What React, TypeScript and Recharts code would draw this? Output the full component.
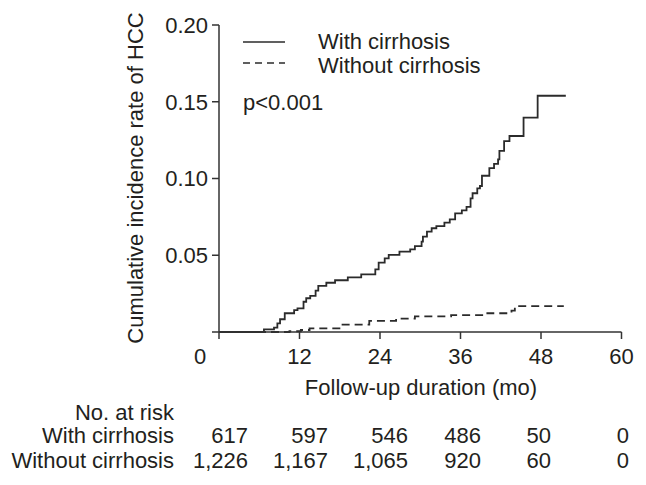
import { LineChart, Line, XAxis, YAxis } from 'recharts'

// follow-up months on the x axis, cumulative incidence on the y axis
const monthTicks = [0, 12, 24, 36, 48, 60]
const rateTicks = [0, 0.05, 0.1, 0.15, 0.2]

// step curve: with cirrhosis
const withTime = [0, 6.7, 8.2, 8.7, 9.1, 9.8, 11.2, 11.7, 12.6, 13.0, 13.6, 14.4, 14.8, 16.0, 17.3, 19.2, 21.2, 23.3, 23.8, 24.7, 25.3, 26.9, 28.5, 29.2, 30.2, 30.4, 31.0, 31.7, 32.4, 33.6, 34.4, 35.2, 36.2, 36.9, 37.5, 37.8, 38.5, 38.9, 39.2, 40.3, 41.0, 41.6, 41.8, 42.5, 43.3, 45.4, 47.5, 51.7]
const withRate = [0, 0.0017, 0.0028, 0.0056, 0.0083, 0.0122, 0.0143, 0.0154, 0.0197, 0.022, 0.0235, 0.0269, 0.03, 0.0321, 0.0337, 0.0356, 0.0376, 0.0408, 0.0452, 0.048, 0.0502, 0.0523, 0.0538, 0.056, 0.0589, 0.0621, 0.0654, 0.0676, 0.069, 0.0712, 0.0734, 0.0773, 0.0793, 0.0815, 0.0871, 0.0904, 0.0936, 0.0951, 0.1018, 0.1067, 0.1095, 0.1125, 0.118, 0.1244, 0.1277, 0.1396, 0.1539, 0.1539]

// step curve: without cirrhosis
const withoutTime = [0, 10.5, 12.2, 13.5, 18.2, 22.4, 26.4, 29.2, 34.6, 40.0, 43.6, 44.1, 51.4]
const withoutRate = [0, 0.0005, 0.0013, 0.0024, 0.0048, 0.0072, 0.0087, 0.0102, 0.011, 0.0122, 0.0139, 0.0168, 0.0168]

const groups = ['With cirrhosis', 'Without cirrhosis']
const atRiskWith = ['617', '597', '546', '486', '50', '0']
const atRiskWithout = ['1,226', '1,167', '1,065', '920', '60', '0']

const withData = withTime.map((t, i) => ({ t, rate: withRate[i] }))
const withoutData = withoutTime.map((t, i) => ({ t, rate: withoutRate[i] }))

const FONT = '"Liberation Sans", Arial, sans-serif'
const INK = '#231f20'
const FS = 22

// right edges of the at-risk columns
const colRight = [248, 328, 408, 481, 551, 629]

function XTick(props: any) {
  const { x, y, payload } = props
  const shift = payload.value === 0 ? -19 : 0
  return (
    <text x={x + shift} y={y} dy={15} textAnchor="middle" dominantBaseline="central"
      fontFamily={FONT} fontSize={FS} fill={INK}>
      {payload.value}
    </text>
  )
}

export default function App() {
  const rows = [atRiskWith, atRiskWithout]
  return (
    <div style={{ position: 'absolute', left: 0, top: 0, width: 646, height: 485, background: '#fff' }}>
      <LineChart width={646} height={485} data={withData}
        margin={{ top: 25, right: 24.5, left: 0, bottom: 0 }}>
        <XAxis type="number" dataKey="t" domain={[0, 60]} ticks={monthTicks}
          height={153} tickSize={7} tick={<XTick />}
          axisLine={{ stroke: '#333', strokeWidth: 1.5 }}
          tickLine={{ stroke: '#333', strokeWidth: 1.5 }} />
        <YAxis type="number" domain={[0, 0.2]} ticks={rateTicks} width={219}
          tickSize={7} tickMargin={4}
          tickFormatter={(v: number) => (v === 0 ? '' : v.toFixed(2))}
          tick={{ fontFamily: FONT, fontSize: FS, fill: INK }}
          axisLine={{ stroke: '#333', strokeWidth: 1.5 }}
          tickLine={{ stroke: '#333', strokeWidth: 1.5 }} />
        <Line data={withData} dataKey="rate" type="stepAfter" stroke="#2b2b2b"
          strokeWidth={1.8} dot={false} isAnimationActive={false} />
        <Line data={withoutData} dataKey="rate" type="stepAfter" stroke="#2b2b2b"
          strokeWidth={1.8} strokeDasharray="8 5" dot={false} isAnimationActive={false} />
      </LineChart>

      <svg width={646} height={485} style={{ position: 'absolute', left: 0, top: 0, pointerEvents: 'none' }}
        fontFamily={FONT} fontSize={FS} fill={INK}>
        <text transform="translate(135,178) rotate(-90)" textAnchor="middle" dominantBaseline="central">
          Cumulative incidence rate of HCC
        </text>

        <line x1={243} x2={285} y1={42} y2={42} stroke="#2b2b2b" strokeWidth={1.5} />
        <line x1={243} x2={285} y1={63} y2={63} stroke="#2b2b2b" strokeWidth={1.5} strokeDasharray="7 5" />
        <text x={318} y={41} dominantBaseline="central">{groups[0]}</text>
        <text x={318} y={65} dominantBaseline="central">{groups[1]}</text>
        <text x={243} y={102} dominantBaseline="central">p&lt;0.001</text>

        <text x={421} y={387} textAnchor="middle" dominantBaseline="central">Follow-up duration (mo)</text>

        <text x={174} y={412} textAnchor="end" dominantBaseline="central">No. at risk</text>
        {groups.map((g, r) => (
          <g key={g}>
            <text x={174} y={435 + r * 25} textAnchor="end" dominantBaseline="central">{g}</text>
            {rows[r].map((n, c) => (
              <text key={c} x={colRight[c]} y={435 + r * 25} textAnchor="end" dominantBaseline="central">{n}</text>
            ))}
          </g>
        ))}
      </svg>
    </div>
  )
}
